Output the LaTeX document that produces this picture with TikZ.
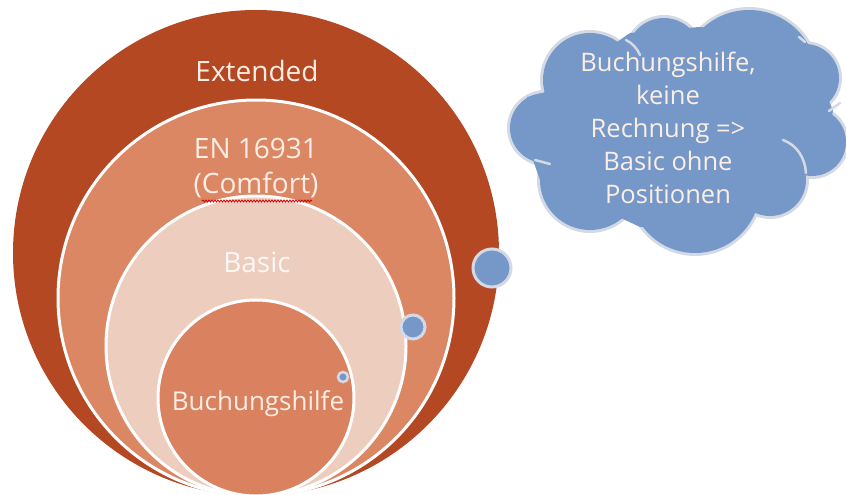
\documentclass[tikz,border=0pt]{standalone}
\usepackage{fontspec}
\setmainfont{Open Sans}
\usetikzlibrary{decorations.pathmorphing}
\definecolor{extc}{RGB}{180,72,35}
\definecolor{enc}{RGB}{220,135,100}
\definecolor{basc}{RGB}{236,205,190}
\definecolor{buc}{RGB}{218,130,95}
\definecolor{labc}{RGB}{252,238,228}
\definecolor{blu}{RGB}{118,152,201}
\definecolor{blubd}{RGB}{212,218,228}
\tikzset{
  ring/.style={draw=white,line width=3pt},
  lab/.style={text=labc,align=center,font=\fontsize{28}{35}\selectfont,inner sep=0pt},
  dot/.style={fill=blu,draw=blubd,line width=3pt},
  seam/.style={draw=blubd,line width=2.5pt,line cap=round},
}
\newcommand{\puffs}[1]{%
  #1 (545,128) circle[radius=35pt];
  #1 (590,80) circle[radius=47pt];
  #1 (664,55) circle[radius=37pt];
  #1 (749,78) circle[radius=68pt];
  #1 (805,78) circle[radius=34pt];
  #1 (812,142) circle[radius=34pt];
  #1 (770,180) circle[radius=36pt];
  #1 (695,188) circle[radius=65pt];
  #1 (590,180) circle[radius=50pt];
}
\begin{document}
\begin{tikzpicture}[x=1pt,y=-1pt]
\useasboundingbox (0,0) rectangle (846,495);
% nested circles
\fill[extc] (256,253) circle[radius=243pt];
\filldraw[enc,ring] (256,298) circle[radius=198pt];
\filldraw[basc,ring] (256,346) circle[radius=150pt];
\filldraw[buc,ring] (256,398) circle[radius=98pt];
% labels
\node[lab] (ext) at (257,71) {Extended};
\node[lab] (en) at (256,168) {EN 16931\\(Comfort)};
\node[lab,text=white!60!basc!40!white] (bas) at (257,262) {Basic};
\node[lab,font=\fontsize{26}{30}\selectfont] (buch) at (258,404) {Buchungshilfe};
\draw[red!80!black,line width=0.8pt,decorate,decoration={snake,amplitude=1pt,segment length=3pt}] (202,201) -- (312,201);
% blue dots
\filldraw[dot] (492,268) circle[radius=19pt];
\filldraw[dot] (413,327) circle[radius=12pt];
\filldraw[dot,line width=2.5pt] (343,377) circle[radius=5pt];
% cloud: border under, fill over
\puffs{\draw[blubd,line width=6pt]}
\puffs{\fill[blu]}
\fill[blu] (527,97) -- (543,93) -- (630,33) -- (699,27) -- (799,37) -- (833,110)
  -- (823,173) -- (806,173) -- (749,217) -- (640,227) -- (540,180) -- (533,160) -- cycle;
\draw[seam] (626,40) .. controls (632,43) and (637,48) .. (640,55);
\draw[seam] (783,140) .. controls (797,145) and (805,158) .. (806,173);
\draw[seam] (829,111) -- (840,103);
\draw[seam] (535,160) -- (550,164);
\draw[seam] (799,37) -- (805,42);
\node[text=labc,align=center,font=\fontsize{25.5}{33}\selectfont,inner sep=0pt] (cl) at (668,128)
  {Buchungshilfe,\\keine\\Rechnung =>\\Basic ohne\\Positionen};
\end{tikzpicture}
\end{document}
